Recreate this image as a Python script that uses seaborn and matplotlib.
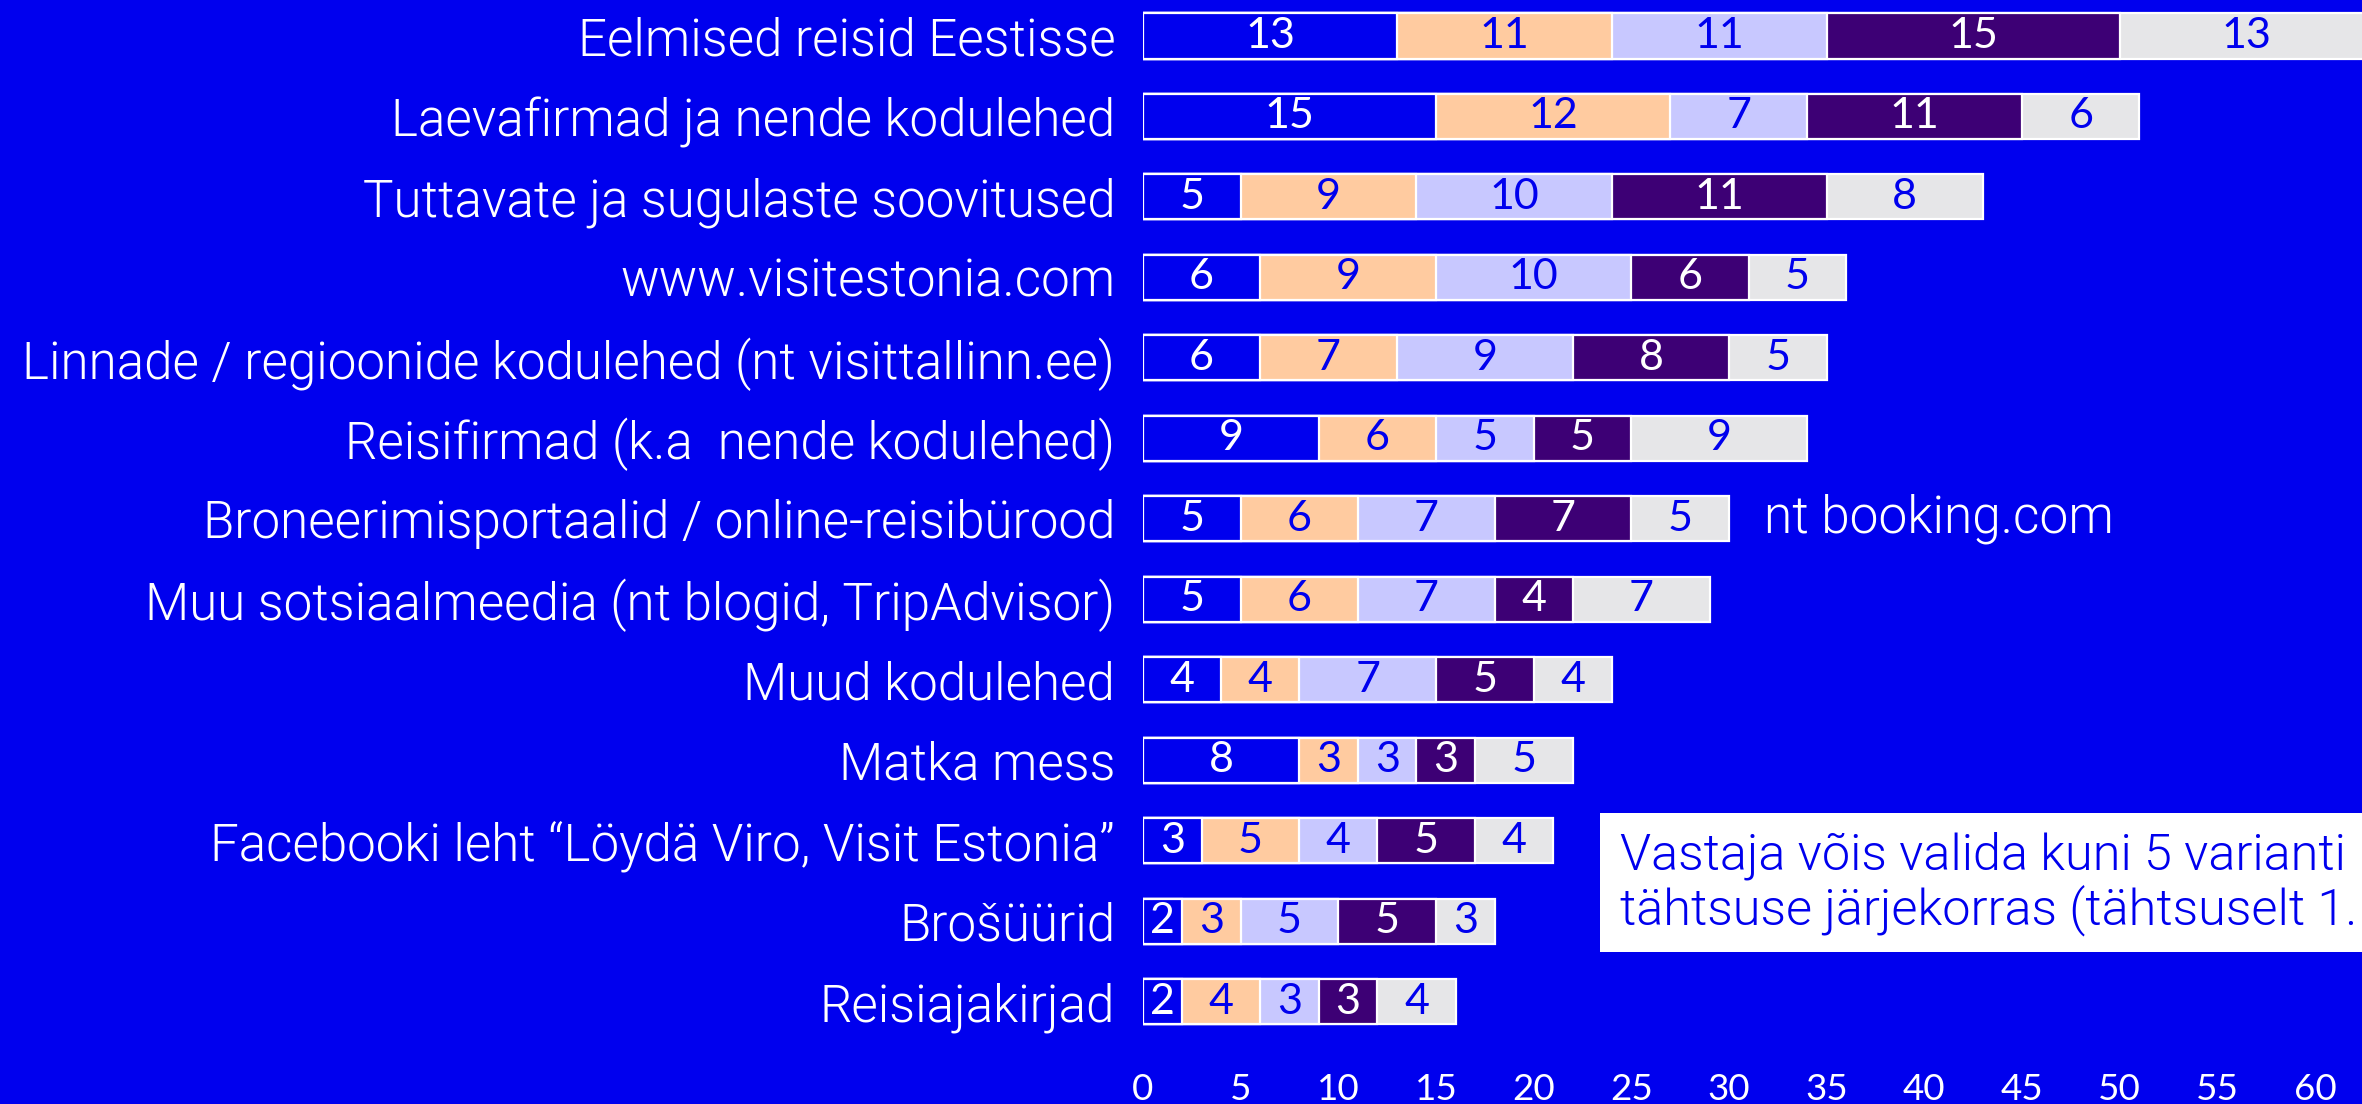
import numpy as np
import pandas as pd
import matplotlib
matplotlib.use("Agg")
import matplotlib.pyplot as plt
from matplotlib import font_manager
from matplotlib.patches import Rectangle
import seaborn as sns

# Information sources, ranked answers (share of respondents per rank position)
categories = [
    "Eelmised reisid Eestisse",
    "Laevafirmad ja nende kodulehed",
    "Tuttavate ja sugulaste soovitused",
    "www.visitestonia.com",
    "Linnade / regioonide kodulehed (nt visittallinn.ee)",
    "Reisifirmad (k.a  nende kodulehed)",
    "Broneerimisportaalid / online-reisibürood",
    "Muu sotsiaalmeedia (nt blogid, TripAdvisor)",
    "Muud kodulehed",
    "Matka mess",
    "Facebooki leht \u201cLöydä Viro, Visit Estonia\u201d",
    "Brošüürid",
    "Reisiajakirjad",
]
rank1 = [13, 15, 5, 6, 6, 9, 5, 5, 4, 8, 3, 2, 2]
rank2 = [11, 12, 9, 9, 7, 6, 6, 6, 4, 3, 5, 3, 4]
rank3 = [11, 7, 10, 10, 9, 5, 7, 7, 7, 3, 4, 5, 3]
rank4 = [15, 11, 11, 6, 8, 5, 7, 4, 5, 3, 5, 5, 3]
rank5 = [13, 6, 8, 5, 5, 9, 5, 7, 4, 5, 4, 3, 4]
x_ticks = list(range(0, 61, 5))

note_side = "nt booking.com"
note_box = ["Vastaja võis valida kuni 5 varianti",
            "tähtsuse järjekorras (tähtsuselt 1. järjekorras)"]

BG = "#0000EE"
seg_colors = ["#0000EE", "#FFCBA0", "#C8C8FF", "#3D0075", "#E6E6E8"]
txt_colors = ["white", "#0000EE", "#0000EE", "white", "#0000EE"]

names = {f.name for f in font_manager.fontManager.ttflist}
label_font = "Liberation Sans Narrow" if "Liberation Sans Narrow" in names else "Roboto"
num_font = "Lato"
LW = 300  # light text weight

sns.set_theme(style="white")
plt.rcParams["font.family"] = [label_font, "DejaVu Sans"]

fig = plt.figure(figsize=(23.62, 11.04), dpi=100, facecolor=BG)
ax = fig.add_axes([0.4839, 0.0562, 0.5161, 0.9438])
ax.set_facecolor(BG)

series = [rank1, rank2, rank3, rank4, rank5]
vals = np.array(series, dtype=float)
cum = np.cumsum(vals, axis=0)

# stacked look: draw cumulative totals from longest to shortest
for k in range(4, -1, -1):
    df = pd.DataFrame({"source": categories, "value": cum[k]})
    sns.barplot(data=df, x="value", y="source", orient="h", color=seg_colors[k],
                saturation=1, width=0.56, edgecolor="white", linewidth=1.6,
                ax=ax, order=categories)

for k in range(5):
    for i in range(len(categories)):
        v = vals[k, i]
        ax.text(cum[k, i] - v / 2, i, f"{int(v)}", ha="center", va="center",
                color=txt_colors[k], fontsize=31, fontfamily=num_font,
                fontweight="normal")

ax.set_xlim(0, 62.4)
ax.set_ylim(12.5, -0.447)
ax.set_xticks(x_ticks)
ax.set_xticklabels([str(t) for t in x_ticks], fontfamily=num_font, fontsize=26.5,
                   color="white", fontweight="normal")
ax.tick_params(axis="x", length=0, pad=22)
ax.tick_params(axis="y", length=0, pad=20, labelsize=36.8, labelcolor="white")
for lbl in ax.get_yticklabels():
    lbl.set_fontweight(LW)
ax.set_xlabel("")
ax.set_ylabel("")
for s in ax.spines.values():
    s.set_visible(False)

ax.text(31.8, 6, note_side, ha="left", va="center", color="white", fontsize=37,
        fontweight=LW)

ax.add_patch(Rectangle((23.4, 9.65), 60, 1.73, facecolor="white", edgecolor="none",
                       clip_on=False, zorder=3))
ax.text(24.4, 10.19, note_box[0], ha="left", va="center", color=BG, fontsize=36.3,
        zorder=4, clip_on=False, fontweight=LW)
ax.text(24.4, 10.86, note_box[1], ha="left", va="center", color=BG, fontsize=36.3,
        zorder=4, clip_on=False, fontweight=LW)

fig.savefig("out.png", dpi=100, facecolor=BG)
